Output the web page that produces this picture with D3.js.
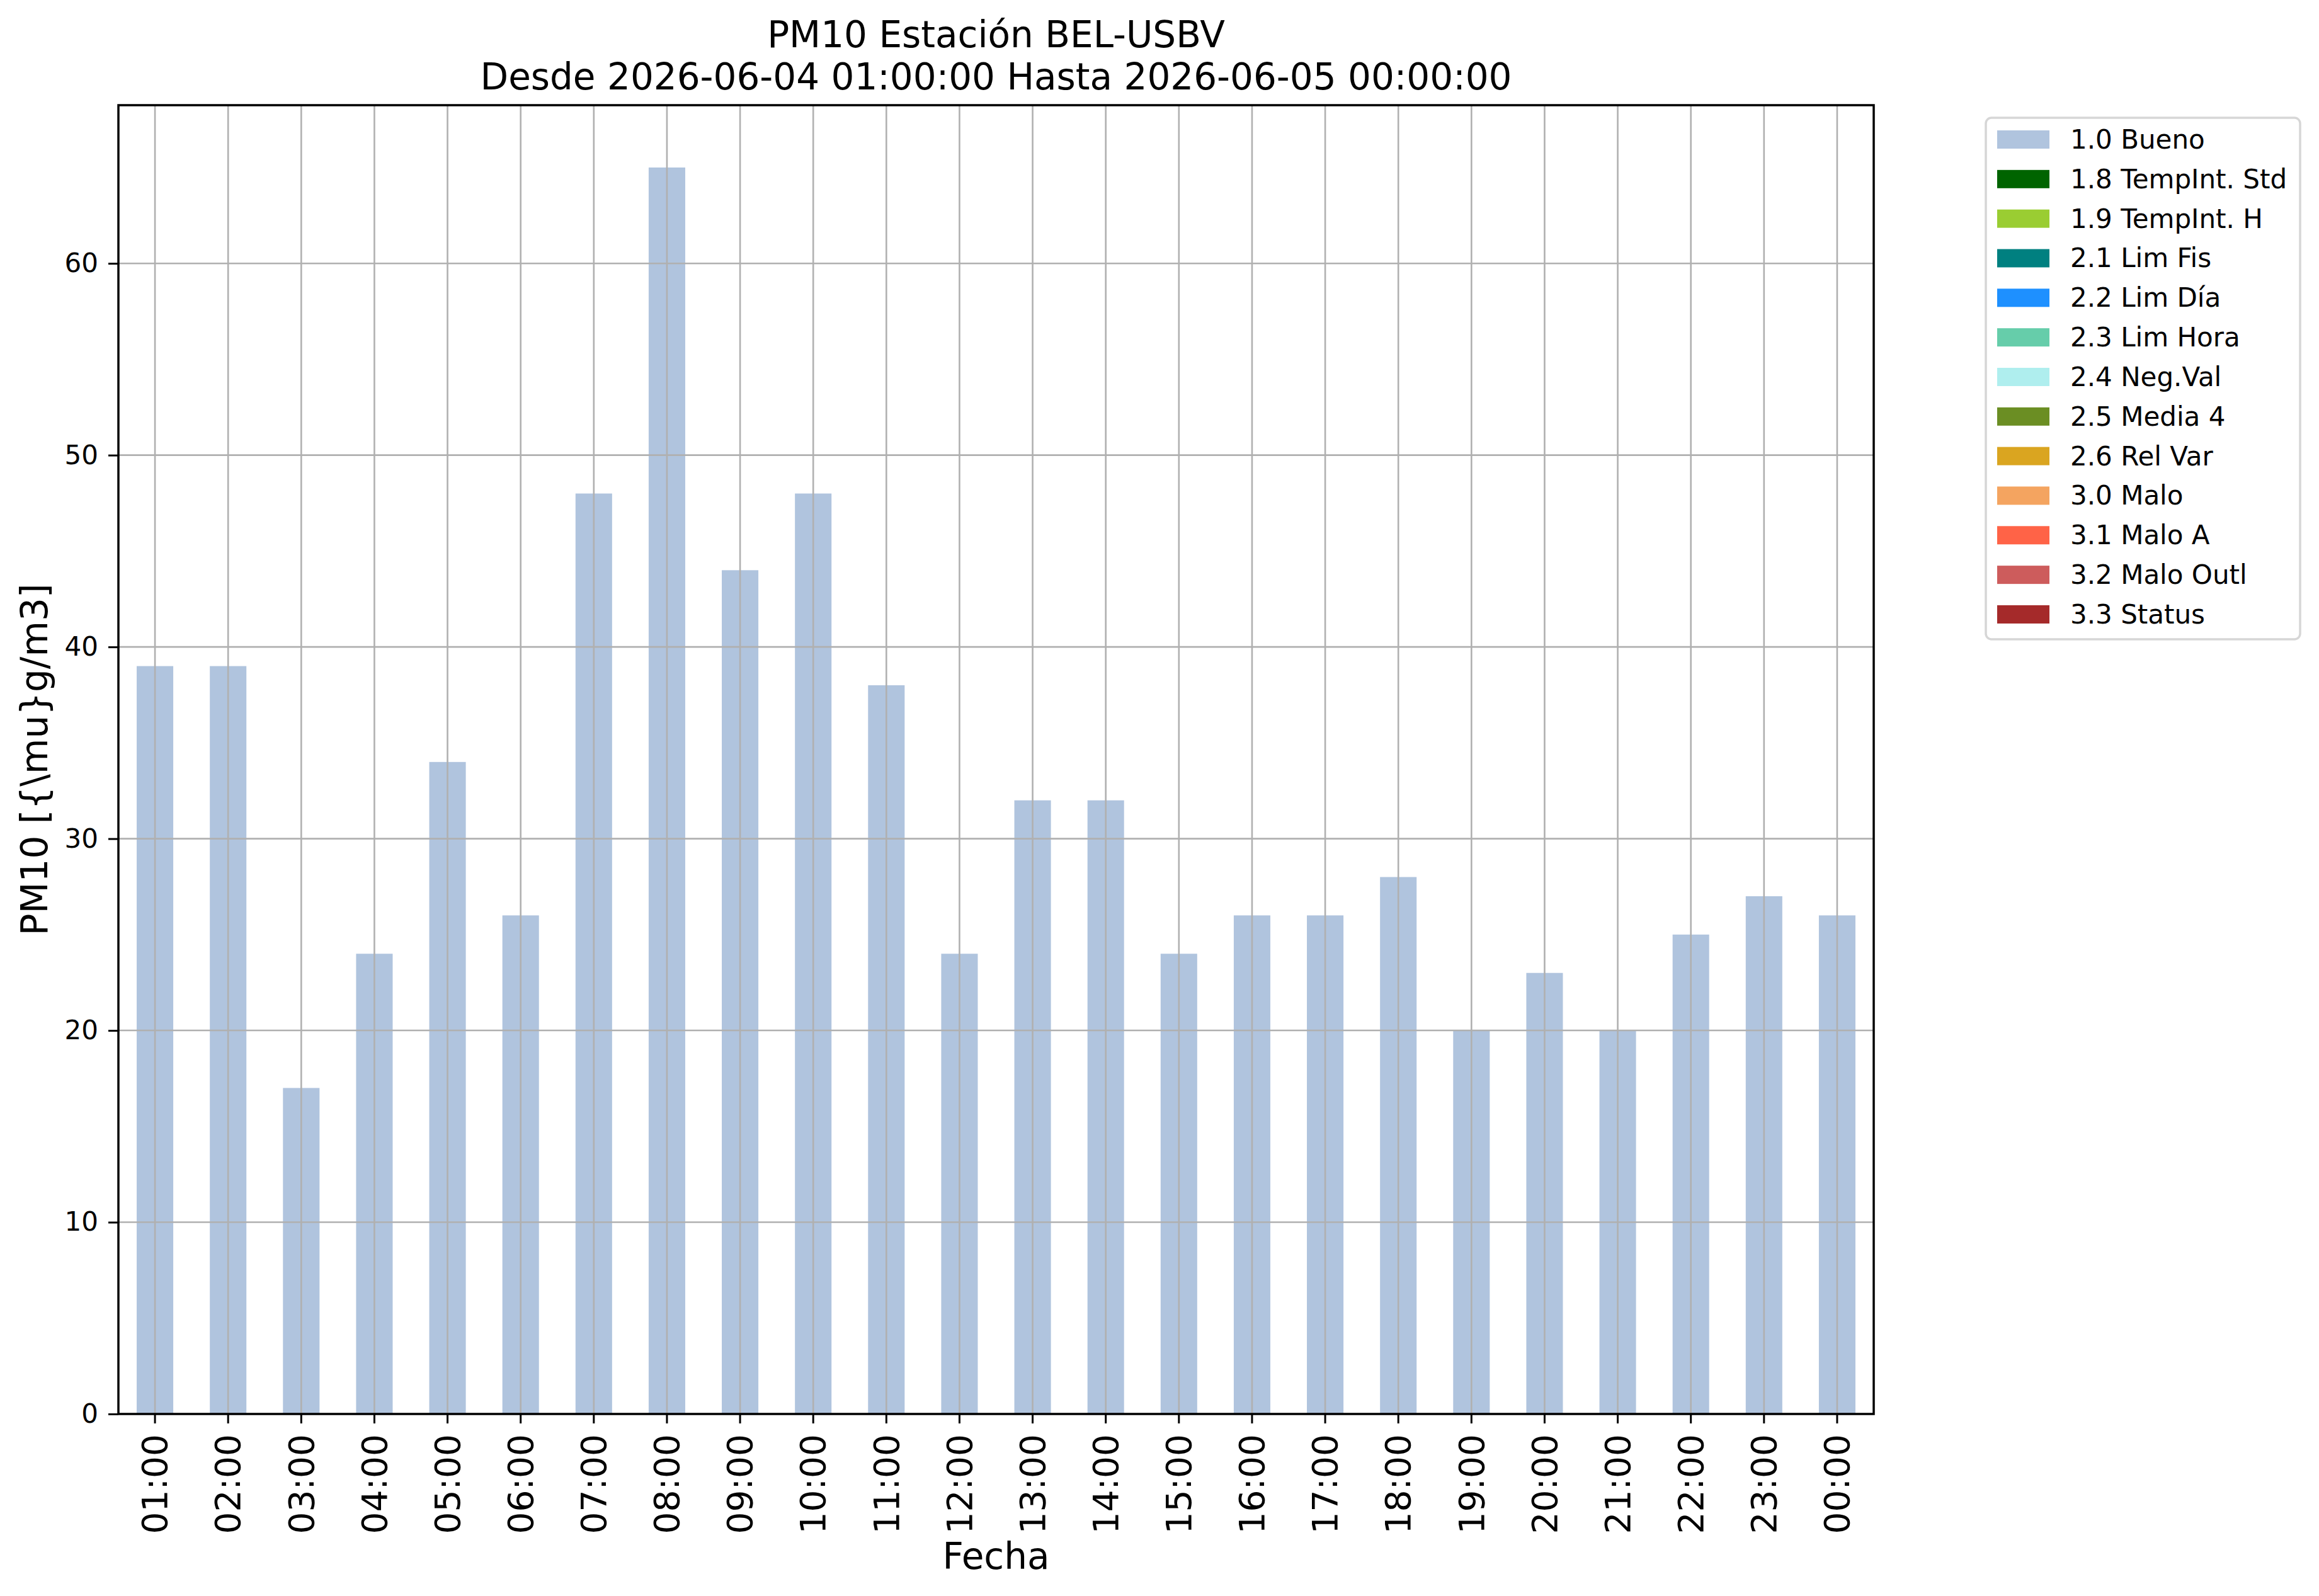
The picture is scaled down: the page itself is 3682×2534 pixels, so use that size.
<!DOCTYPE html>
<html>
<head>
<meta charset="utf-8">
<script src="https://cdn.jsdelivr.net/npm/d3@7"></script>
<style>
  body { margin: 0; background: #fff; }
  text { font-family: "DejaVu Sans", sans-serif; }
</style>
</head>
<body>
<svg id="chart"></svg>
<script>
// --- data ---
const hours = ["01:00", "02:00", "03:00", "04:00", "05:00", "06:00", "07:00", "08:00",
  "09:00", "10:00", "11:00", "12:00", "13:00", "14:00", "15:00", "16:00",
  "17:00", "18:00", "19:00", "20:00", "21:00", "22:00", "23:00", "00:00"];
const pm10 = [39, 39, 17, 24, 34, 26, 48, 65, 44, 48, 38, 24, 32, 32, 24, 26,
  26, 28, 20, 23, 20, 25, 27, 26];
const yTicks = [0, 10, 20, 30, 40, 50, 60];
const flagLabels = ["1.0 Bueno", "1.8 TempInt. Std", "1.9 TempInt. H", "2.1 Lim Fis",
  "2.2 Lim Día", "2.3 Lim Hora", "2.4 Neg.Val", "2.5 Media 4", "2.6 Rel Var",
  "3.0 Malo", "3.1 Malo A", "3.2 Malo Outl", "3.3 Status"];
const flagColors = ["lightsteelblue", "darkgreen", "yellowgreen", "teal", "dodgerblue",
  "mediumaquamarine", "paleturquoise", "olivedrab", "goldenrod", "sandybrown",
  "tomato", "indianred", "brown"];

const titleLines = ["PM10 Estación BEL-USBV", "Desde 2026-06-04 01:00:00 Hasta 2026-06-05 00:00:00"];

// Setup the base SVG
const width = 3682;
const height = 2534;
const margin = { top: 167, right: 707, bottom: 289, left: 188 };
const innerW = width - margin.left - margin.right;
const innerH = height - margin.top - margin.bottom;

const svg = d3.select("#chart").attr("width", width).attr("height", height);

const x = d3.scaleBand().domain(hours).range([0, innerW]).paddingInner(0.5).paddingOuter(0.25);
const y = d3.scaleLinear().domain([0, d3.max(pm10) * 1.05]).range([innerH, 0]);

const g = svg.append("g").attr("transform", `translate(${margin.left},${margin.top})`);

// Bars
g.append("g")
  .selectAll("rect")
  .data(pm10)
  .enter()
  .append("rect")
  .attr("x", (d, i) => x(hours[i]))
  .attr("y", (d) => y(d))
  .attr("width", x.bandwidth())
  .attr("height", (d) => innerH - y(d))
  .attr("fill", flagColors[0]);

// Grid (drawn over the bars like the original)
const grid = g.append("g").attr("stroke", "#b0b0b0").attr("stroke-width", 2.6);
grid.selectAll(".vg")
  .data(hours)
  .enter()
  .append("line")
  .attr("x1", (d) => x(d) + x.bandwidth() / 2)
  .attr("x2", (d) => x(d) + x.bandwidth() / 2)
  .attr("y1", 0)
  .attr("y2", innerH);
grid.selectAll(".hg")
  .data(yTicks)
  .enter()
  .append("line")
  .attr("x1", 0)
  .attr("x2", innerW)
  .attr("y1", (d) => y(d))
  .attr("y2", (d) => y(d));

// Axes
const xAxis = g.append("g")
  .attr("transform", `translate(0,${innerH})`)
  .call(d3.axisBottom(x).tickSize(15).tickPadding(16));
xAxis.select(".domain").remove();
xAxis.selectAll(".tick line").attr("stroke-width", 3);
xAxis.selectAll(".tick text")
  .attr("font-size", 55)
  .attr("fill", "#000")
  .attr("text-anchor", "end")
  .attr("transform", "rotate(-90)")
  .attr("x", -32)
  .attr("y", 0)
  .attr("dy", "0.35em");

const yAxis = g.append("g")
  .call(d3.axisLeft(y).tickValues(yTicks).tickSize(16).tickPadding(16));
yAxis.select(".domain").remove();
yAxis.selectAll(".tick line").attr("stroke-width", 3);
yAxis.selectAll(".tick text").attr("font-size", 42).attr("fill", "#000");

// Frame
g.append("rect")
  .attr("width", innerW)
  .attr("height", innerH)
  .attr("fill", "none")
  .attr("stroke", "#000")
  .attr("stroke-width", 3.5);

// Titles and labels
svg.append("g")
  .selectAll("text")
  .data(titleLines)
  .enter()
  .append("text")
  .attr("x", margin.left + innerW / 2)
  .attr("y", (d, i) => 75 + i * 67)
  .attr("text-anchor", "middle")
  .attr("font-size", 58)
  .text((d) => d);

svg.append("text")
  .attr("x", margin.left + innerW / 2)
  .attr("y", 2491)
  .attr("text-anchor", "middle")
  .attr("font-size", 58)
  .text("Fecha");

svg.append("text")
  .attr("transform", `translate(75,${margin.top + innerH / 2}) rotate(-90)`)
  .attr("text-anchor", "middle")
  .attr("font-size", 58)
  .text("PM10 [{\\mu}g/m3]");

// Legend
const legend = svg.append("g").attr("transform", "translate(3153,187)");
legend.append("rect")
  .attr("width", 499)
  .attr("height", 828)
  .attr("rx", 9)
  .attr("fill", "#fff")
  .attr("fill-opacity", 0.8)
  .attr("stroke", "#d6d6d6")
  .attr("stroke-width", 3.5);

const items = legend.selectAll(".item")
  .data(flagLabels)
  .enter()
  .append("g")
  .attr("transform", (d, i) => `translate(0,${34.5 + i * 62.83})`);
items.append("rect")
  .attr("x", 18)
  .attr("y", -14.5)
  .attr("width", 83)
  .attr("height", 29)
  .attr("fill", (d, i) => flagColors[i]);
items.append("text")
  .attr("x", 134)
  .attr("y", 14.5)
  .attr("font-size", 42)
  .text((d) => d);
</script>
</body>
</html>
